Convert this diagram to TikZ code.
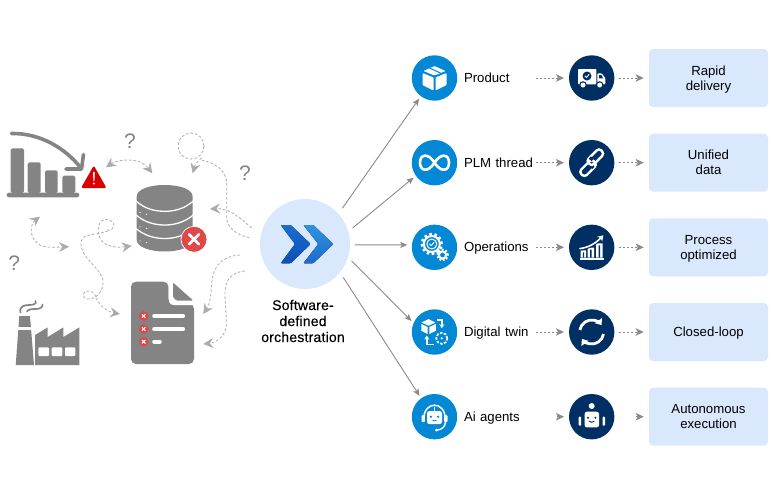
\documentclass[tikz,border=0pt]{standalone}
\usepackage{fontspec}
\usepackage[usenames,dvipsnames]{xcolor}
\usetikzlibrary{arrows.meta}
\setmainfont{Liberation Sans}
\newfontfamily\hubfont[FakeBold=0.35,LetterSpace=1.5]{Liberation Sans}
\definecolor{paleblue}{HTML}{D9E8FD}
\definecolor{midblue}{HTML}{0288D4}
\definecolor{navy}{HTML}{002F63}
\definecolor{linegray}{HTML}{8A8A8A}
\definecolor{mess}{HTML}{ABABAB}
\definecolor{icongray}{HTML}{848484}
\definecolor{badge}{HTML}{E04848}
\definecolor{chevA}{HTML}{1A6FD0}
\definecolor{chevB}{HTML}{0A4FB5}
\definecolor{chevC}{HTML}{1B6BCB}
\definecolor{chevD}{HTML}{2F93E0}
\begin{document}
\begin{tikzpicture}
[x=1pt,y=-1pt,
 hub/.style={circle,fill=paleblue,inner sep=0pt,outer sep=0pt,minimum size=90pt},
 enabler/.style={circle,fill=midblue,inner sep=0pt,outer sep=0pt,minimum size=45.4pt},
 effect/.style={circle,fill=navy,inner sep=0pt,outer sep=0pt,minimum size=45.4pt},
 result/.style={rectangle,rounded corners=4pt,fill=paleblue,inner sep=0pt,outer sep=0pt,minimum width=119pt,minimum height=58pt,align=center,text depth=0pt,font=\fontsize{13.2}{15}\selectfont},
 tag/.style={anchor=west,inner sep=0pt,outer sep=0pt,text width=72pt,text height=10.5pt,text depth=1.5pt,font=\fontsize{13.2}{15}\selectfont},
 query/.style={text=icongray,inner sep=0pt,font=\fontsize{21}{21}\selectfont},
 fan arrow/.style={draw=linegray,line width=0.9pt,-{Stealth[length=7pt,width=6pt,inset=1.5pt]}},
 dash arrow/.style={draw=linegray,line width=1pt,dash pattern=on 2.4pt off 1.6pt,-{Stealth[length=8pt,width=7.5pt,inset=2pt,sep=0pt]}},
 mess arrow/.style={draw=mess,line width=0.8pt,dash pattern=on 2.6pt off 2pt,-{Stealth[length=10pt,width=10pt,inset=3.5pt]}},
 mess double/.style={mess arrow,{Stealth[length=10pt,width=10pt,inset=3.5pt]}-{Stealth[length=10pt,width=10pt,inset=3.5pt]}},
 mess plain/.style={draw=mess,line width=0.8pt,dash pattern=on 2.6pt off 2pt},
 solid gray/.style={fill=icongray},
 white line/.style={draw=white,line width=1.6pt,line cap=round,line join=round}]
\useasboundingbox (0,0) rectangle (774,496);
% centre and the two right columns
\node[hub]     (orch)  at (305  ,244  ) {};
\node[enabler] (prod)  at (434.5, 78  ) {};
\node[enabler] (plm)   at (434.5,162.7) {};
\node[enabler] (oper)  at (434.5,247.3) {};
\node[enabler] (twin)  at (434.5,332  ) {};
\node[enabler] (agent) at (434.5,416.7) {};
\node[tag] (prod-t)  at (464, 78  ) {Product};
\node[tag] (plm-t)   at (464,162.7) {PLM thread};
\node[tag] (oper-t)  at (464,247.3) {Operations};
\node[tag] (twin-t)  at (464,332  ) {Digital twin};
\node[tag] (agent-t) at (464,416.7) {Ai agents};
\node[effect] (truck) at (591.7, 78  ) {};
\node[effect] (link)  at (591.7,162.7) {};
\node[effect] (chart) at (591.7,247.3) {};
\node[effect] (sync)  at (591.7,332  ) {};
\node[effect] (robot) at (591.7,416.7) {};
\node[result] (rapid)   at (708.5, 78  ) {Rapid\\delivery};
\node[result] (unified) at (708.5,162.7) {Unified\\data};
\node[result] (process) at (708.5,247.3) {Process\\optimized};
\node[result] (closed)  at (708.5,332  ) {Closed-loop};
\node[result] (auton)   at (708.5,416.7) {Autonomous\\execution};
\node[align=center,inner sep=0pt,font=\hubfont\fontsize{14}{16}\selectfont] (orch-t) at (303,321) {Software-\\defined\\orchestration};
\path (orch.42)   edge[fan arrow,shorten <=7pt,shorten >=3pt]   (prod.233)
      (orch.16)   edge[fan arrow,shorten <=5.7pt,shorten >=3pt] (plm.215)
      (orch.-1)   edge[fan arrow,shorten <=5pt,shorten >=4.6pt] (oper.174)
      (orch.-17)  edge[fan arrow,shorten <=5pt,shorten >=3pt]   (twin.157)
      (orch.-39)  edge[fan arrow,shorten <=6pt,shorten >=3pt]   (agent.126);
\path (prod-t.east)  edge[dash arrow,shorten >=5pt] (truck.west)
      (plm-t.east)   edge[dash arrow,shorten >=5pt] (link.west)
      (oper-t.east)  edge[dash arrow,shorten >=5pt] (chart.west)
      (twin-t.east)  edge[dash arrow,shorten >=5pt] (sync.west)
      (agent-t.east) edge[dash arrow,shorten <=20.5pt,shorten >=5pt] (robot.west)
      (truck.east)   edge[dash arrow,shorten <=4.6pt,shorten >=5.3pt] (rapid.west)
      (link.east)    edge[dash arrow,shorten <=4.6pt,shorten >=5.3pt] (unified.west)
      (chart.east)   edge[dash arrow,shorten <=4.6pt,shorten >=5.3pt] (process.west)
      (sync.east)    edge[dash arrow,shorten <=4.6pt,shorten >=5.3pt] (closed.west)
      (robot.east)   edge[dash arrow,shorten <=21.5pt,shorten >=5.3pt] (auton.west);
% chevrons
\fill[top color=chevA,bottom color=chevB,rounded corners=1pt] (280.7,225) -- (290.7,225) -- (310.7,244) -- (290.7,263.3) -- (280.7,263.3) -- (295,244) -- cycle;
\fill[top color=chevD,bottom color=chevC,rounded corners=1pt] (303.3,225) -- (313.3,225) -- (333.3,244) -- (313.3,263.3) -- (303.3,263.3) -- (318.3,244) -- cycle;
% blue icons
\begin{scope}[shift={(prod.center)}]
\fill[white,rounded corners=0.8pt] (-12,-5) -- (-1,-0.5) -- (-1,12.5) -- (-12,7) -- cycle;
\fill[white,rounded corners=0.8pt] (1,-0.5) -- (12,-5) -- (12,7) -- (1,12.5) -- cycle;
\fill[white,rounded corners=0.8pt] (-11,-7) -- (0,-12) -- (11,-7) -- (0,-2.5) -- cycle;
\draw[midblue,line width=1pt] (-5,-10) -- (6,-5);
\end{scope}
\begin{scope}[shift={(plm.center)}]
\draw[white line,line width=2.6pt] (0,0) .. controls (4,-6) and (7,-7) .. (9.5,-7) .. controls (13,-7) and (14.5,-3.5) .. (14.5,0) .. controls (14.5,3.5) and (13,7) .. (9.5,7) .. controls (7,7) and (4,6) .. (0,0) .. controls (-4,-6) and (-7,-7) .. (-9.5,-7) .. controls (-13,-7) and (-14.5,-3.5) .. (-14.5,0) .. controls (-14.5,3.5) and (-13,7) .. (-9.5,7) .. controls (-7,7) and (-4,6) .. (0,0);
\end{scope}
\begin{scope}[shift={(oper.center)}]
\draw[white,line width=2pt] (-2.7,-3.3) circle[radius=8pt];
\draw[white,line width=2.4pt,dash pattern=on 2.6pt off 2.6pt] (-2.7,-3.3) circle[radius=10pt];
\draw[white line,line width=1pt] (-2.7,-3.3) circle[radius=5pt];
\draw[white line,line width=1pt] (-5,-3.3) -- (-3.3,-1.6) -- (-0.4,-5);
\draw[white,line width=2pt] (8,7.7) circle[radius=3.6pt];
\draw[white,line width=2pt,dash pattern=on 1.8pt off 1.8pt] (8,7.7) circle[radius=5.4pt];
\end{scope}
\begin{scope}[shift={(twin.center)}]
\fill[white] (-6,-13) -- (0.8,-9.5) -- (-5.8,-6.3) -- (-13,-9.5) -- cycle;
\fill[white] (-13.2,-8) -- (-6.8,-5) -- (-6.8,2) -- (-13.2,-1.2) -- cycle;
\fill[white] (-5.2,-5) -- (1.3,-8) -- (1.3,-1.2) -- (-5.2,2) -- cycle;
\draw[white,line width=1.4pt,-{Stealth[length=4pt,width=5pt]}] (2.5,-12) -- (7.3,-12) -- (7.3,-3.8);
\draw[white,line width=1.4pt,-{Stealth[length=4pt,width=5pt]}] (-1,12.3) -- (-7.7,12.3) -- (-7.7,3.5);
\draw[white,line width=1.7pt,dash pattern=on 2.6pt off 1.4pt] (7.3,6.3) circle[radius=5.6pt];
\fill[white] (7.3,6.3) circle[radius=1.2pt];
\end{scope}
\begin{scope}[shift={(agent.center)}]
\draw[white,line width=1.5pt] (-10.7,2) .. controls (-10.7,-16) and (10.7,-16) .. (10.7,2);
\fill[white,rounded corners=1pt] (-13,-1.5) rectangle (-9.7,5.5);
\fill[white,rounded corners=1pt] (9.7,-1.5) rectangle (13,5.5);
\draw[white,line width=1.4pt] (11,5) .. controls (11,10) and (7,13.3) .. (2.5,13.3);
\fill[white] (2,13.3) circle[radius=1.5pt];
\draw[white,line width=1.4pt] (0,-10) -- (0,-5.5);
\fill[white,rounded corners=2.5pt] (-7.5,-5.7) rectangle (7.5,7.5);
\fill[midblue] (-3.6,0) circle[radius=1.3pt] (3.6,0) circle[radius=1.3pt];
\draw[midblue,line width=0.8pt] (-2,3.4) .. controls (-1,4.6) and (1,4.6) .. (2,3.4);
\end{scope}
% navy icons
\begin{scope}[shift={(truck.center)}]
\fill[white,rounded corners=0.8pt] (-13.7,-9) rectangle (4.7,6.3);
\fill[white,rounded corners=1pt] (5.7,-4.7) -- (10,-4.7) -- (13.7,0.3) -- (13.7,6.3) -- (5.7,6.3) -- cycle;
\fill[navy] (7.5,-3) -- (9.5,-3) -- (11.5,0.3) -- (7.5,0.3) -- cycle;
\fill[navy] (-8.7,7) circle[radius=3.8pt] (8,7) circle[radius=3.8pt];
\fill[white] (-8.7,7) circle[radius=2.5pt] (8,7) circle[radius=2.5pt];
\fill[navy] (-4.7,-2) circle[radius=4.5pt];
\draw[white line,line width=0.9pt] (-6.7,-2) -- (-5.2,-0.5) -- (-2.6,-3.6);
\end{scope}
\begin{scope}[shift={(link.center)},rotate=45]
\draw[white,line width=2.4pt,rounded corners=3.4pt] (-15.5,-2.6) rectangle (2.5,5.2);
\draw[navy,line width=4.6pt] (-4,2.6) -- (-1,2.6);
\draw[white,line width=2.4pt,rounded corners=3.4pt] (-2.5,-5.2) rectangle (15.5,2.6);
\draw[navy,line width=4.6pt] (1,-2.6) -- (4,-2.6);
\draw[white,line width=2.4pt] (-0.5,5.2) -- (-0.1,5.2);
\draw[white,line width=2.4pt] (2.5,1) -- (2.5,-1);
\end{scope}
\begin{scope}[shift={(chart.center)}]
\fill[white] (-11,3) rectangle (-5.7,10.3) (-4,0.3) rectangle (2.3,10.3) (4.3,-4) rectangle (11,10.3);
\fill[navy] (-8.9,5) rectangle (-7.7,10.3) (-1.5,2.3) rectangle (0,10.3) (6.8,-2) rectangle (8.4,10.3);
\fill[white] (-12,10.6) rectangle (12.3,12.2);
\draw[navy,line width=4pt] (-11.7,1.3) .. controls (-2,0) and (5,-5) .. (10.5,-11);
\draw[white,line width=1.6pt,line cap=round,-{Stealth[length=5.5pt,width=7pt]}] (-11.7,1.3) .. controls (-2,0) and (5,-5) .. (11.7,-12);
\end{scope}
\begin{scope}[shift={(sync.center)}]
\draw[white,line width=2.8pt,-{Stealth[length=5.5pt,width=8.5pt,inset=0pt]}] (170:12pt) arc[start angle=170,end angle=35,radius=12pt];
\draw[white,line width=2.8pt,-{Stealth[length=5.5pt,width=8.5pt,inset=0pt]}] (-10:12pt) arc[start angle=-10,end angle=-145,radius=12pt];
\end{scope}
\begin{scope}[shift={(robot.center)}]
\fill[white] (0,-10.7) circle[radius=3pt];
\fill[white,rounded corners=2.5pt] (-7.2,-5) rectangle (7.4,10.7);
\fill[white,rounded corners=0.8pt] (-13,0) rectangle (-10.5,9) (10.8,0) rectangle (13.3,9);
\fill[navy] (-3.7,1) circle[radius=1.1pt] (3.7,1) circle[radius=1.1pt];
\draw[navy,line width=0.9pt,line cap=round] (-2.5,4.5) .. controls (-1,6) and (1,6) .. (2.5,4.5);
\end{scope}
% bar chart and warning
\fill[solid gray,rounded corners=1.5pt] (10.7,192.9) rectangle (24,148.3);
\fill[solid gray,rounded corners=1.5pt] (27.7,192.9) rectangle (40.7,162.3);
\fill[solid gray,rounded corners=1.5pt] (45,192.9) rectangle (57.7,170.3);
\fill[solid gray,rounded corners=1.5pt] (62.3,192.9) rectangle (75.3,175.7);
\fill[solid gray,rounded corners=2.2pt] (6.7,192.7) rectangle (79.3,197.3);
\draw[icongray,line width=3.6pt,line cap=round] (11.5,133.5) .. controls (40,133) and (65,148) .. (80.5,167.5);
\draw[icongray,line width=3.6pt,line cap=round,line join=round] (83.5,154.5) -- (81.5,169) -- (66,169);
\fill[red!85!black,rounded corners=2pt] (93.8,165.5) -- (106.5,188) -- (81,188) -- cycle;
\fill[white] (93,172) -- (94.8,172) -- (94.4,181) -- (93.4,181) -- cycle;
\fill[white] (93.9,183.5) circle[radius=1.1pt];
% database
\fill[solid gray] (136.7,196.7) -- (136.7,239.7) .. controls (136.7,247) and (150,251.5) .. (164.7,251.5) .. controls (179.4,251.5) and (192.7,247) .. (192.7,239.7) -- (192.7,196.7) .. controls (192.7,189) and (179.4,185) .. (164.7,185) .. controls (150,185) and (136.7,189) .. (136.7,196.7) -- cycle;
\draw[white,line width=1.3pt] (136,201) .. controls (145,209) and (155,211.3) .. (164.7,211.3) .. controls (174.4,211.3) and (184,209) .. (193.4,201);
\draw[white,line width=1.3pt] (136,215) .. controls (145,222.5) and (155,225) .. (164.7,225) .. controls (174.4,225) and (184,222.5) .. (193.4,215);
\draw[white,line width=1.3pt] (136,228.5) .. controls (145,236) and (155,238.5) .. (164.7,238.5) .. controls (174.4,238.5) and (184,236) .. (193.4,228.5);
\fill[white] (140,212.3) circle[radius=0.7pt] (146.7,214.3) circle[radius=0.7pt] (140,226.7) circle[radius=0.7pt] (146.7,228.3) circle[radius=0.7pt] (140,241) circle[radius=0.7pt] (146.7,242.7) circle[radius=0.7pt];
\fill[badge,draw=white,line width=0.7pt] (194,239.3) circle[radius=13pt];
\draw[white,line width=2.6pt,line cap=round] (189,234.3) -- (199,244.3) (199,234.3) -- (189,244.3);
% document
\fill[solid gray,rounded corners=5pt] (131,281.7) -- (168.5,281.7) -- (168.5,303.7) -- (194,303.7) -- (194,364) -- (131,364) -- cycle;
\fill[white] (168.6,281) -- (170,281) -- (170,298) .. controls (170,300.5) and (172,302) .. (175,302) -- (194.5,302) -- (194.5,305) -- (174,305) .. controls (170,305) and (168.6,302) .. (168.6,298) -- cycle;
\fill[solid gray,rounded corners=1pt] (173,282.5) -- (193.2,300.5) -- (176.5,300.5) -- (173,297) -- cycle;
\fill[badge] (143.7,316) circle[radius=4.8pt] (143.7,329) circle[radius=4.8pt] (143.7,341.7) circle[radius=4.8pt];
\draw[white,line width=1.1pt] (142,314.3) -- (145.4,317.7) (145.4,314.3) -- (142,317.7) (142,327.3) -- (145.4,330.7) (145.4,327.3) -- (142,330.7) (142,340) -- (145.4,343.4) (145.4,340) -- (142,343.4);
\draw[white,line width=4.2pt,line cap=round] (154.3,316) -- (183,316) (154.3,329) -- (183,329) (154.3,341.7) -- (159.7,341.7);
% factory
\fill[solid gray] (19.3,316) -- (30,316) -- (34,365) -- (15.7,365) -- cycle;
\fill[white] (17,327.3) rectangle (33,330);
\fill[solid gray] (35,335) -- (47.7,327.4) -- (47.7,337) -- (63.4,327.4) -- (63.4,337) -- (79.3,327.4) -- (79.3,365) -- (35,365) -- cycle;
\fill[white,rounded corners=1pt] (38.3,347.3) rectangle (49,356) (51.7,347.3) rectangle (62.3,356) (65,347.3) rectangle (75.3,356);
\draw[icongray,line width=1.7pt,line cap=round] (20.5,312.5) .. controls (19,306) and (25,305) .. (29,305) .. controls (33,305) and (37,304) .. (35.5,301);
\draw[icongray,line width=1.7pt,line cap=round] (27,311.5) .. controls (28,309) and (33,309) .. (36,309) .. controls (40,309) and (43,307) .. (42.5,304.5);
% question marks
\node[query] (q1) at (130  ,140.7) {?};
\node[query] (q2) at (245  ,173.3) {?};
\node[query] (q3) at (14.3 ,262.7) {?};
% dashed paths
\coordinate (m1a) at (106,167.3);
\coordinate (m1b) at (152.3,173.3);
\draw[mess double] (m1a) .. controls (118,159) and (140,157) .. (m1b);
\draw[mess plain] (191,146) circle[radius=13pt];
\coordinate (m2a) at (201.7,158);
\coordinate (m2b) at (192.7,173.3);
\draw[mess arrow] (m2a) .. controls (198,160) and (195,165) .. (m2b);
\coordinate (m3a) at (201.7,160);
\coordinate (m3b) at (250,237.7);
\draw[mess plain] (m3a) .. controls (215,163) and (227,170) .. (226.7,185) -- (226.7,218) .. controls (227,228) and (238,236) .. (m3b);
\coordinate (m4a) at (251.7,228);
\coordinate (m4b) at (210,209);
\draw[mess arrow] (m4a) .. controls (240,218) and (230,208) .. (m4b);
\coordinate (m5a) at (40,216.7);
\coordinate (m5b) at (69,246.7);
\draw[mess double] (m5a) .. controls (30,224) and (28,240) .. (42,246) .. controls (50,248) and (60,247) .. (m5b);
\coordinate (m6a) at (107,230);
\coordinate (m6b) at (131.7,245.7);
\draw[mess arrow] (m6a) .. controls (115,232) and (118,220) .. (106,219.5) .. controls (99,219) and (96,230) .. (100,238) .. controls (104,247) and (118,248) .. (m6b);
\coordinate (m7a) at (108,231);
\coordinate (m7b) at (120,314);
\draw[mess plain] (m7a) .. controls (95,236) and (80,232) .. (81,245) .. controls (82,258) and (100,268) .. (103,280) .. controls (104,292) and (96,299) .. (88,299) .. controls (82,299) and (81,292) .. (88,291) .. controls (94,291) and (96,296) .. (96,298);
\draw[mess arrow] (96,298) .. controls (100,306) and (108,312) .. (m7b);
\coordinate (m8a) at (240,255);
\coordinate (m8b) at (203.3,314);
\draw[mess arrow] (m8a) .. controls (222,256) and (214,266) .. (212,280) .. controls (211,292) and (211,302) .. (m8b);
\coordinate (m9a) at (245,271);
\coordinate (m9b) at (203.3,344);
\draw[mess arrow] (m9a) .. controls (232,272) and (225,280) .. (225,292) .. controls (225,305) and (227,318) .. (226,328) .. controls (224,338) and (214,343) .. (m9b);
\end{tikzpicture}
\end{document}
